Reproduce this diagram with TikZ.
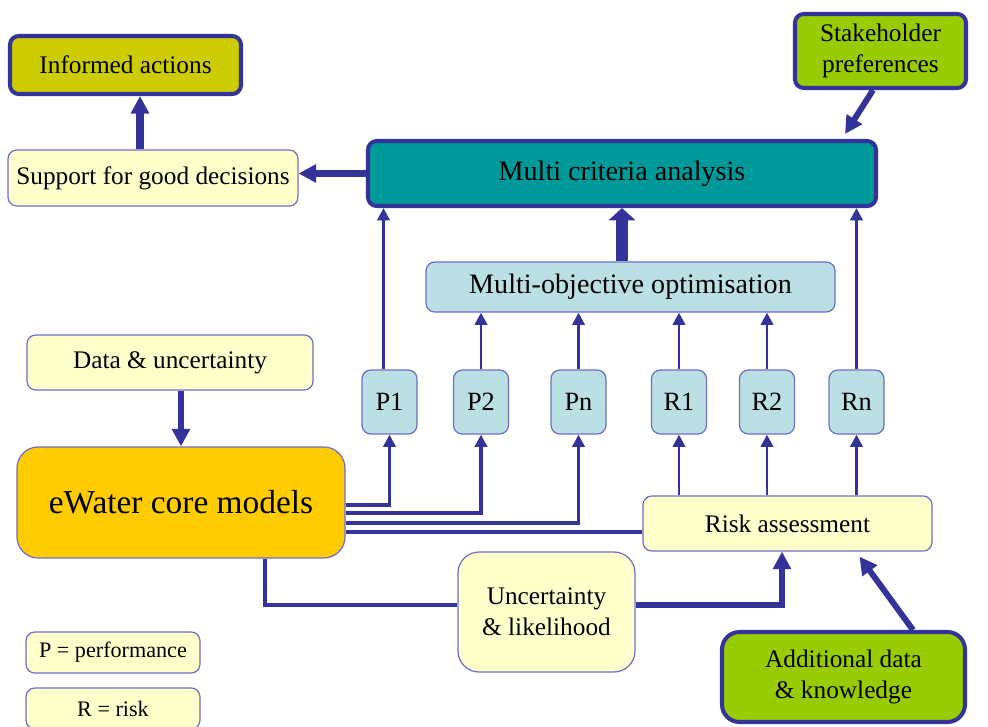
\documentclass[tikz,border=0pt]{standalone}
\usepackage{fontspec}
\setmainfont{Liberation Serif}
\usetikzlibrary{arrows.meta}
\definecolor{linkblue}{RGB}{51,51,153}
\definecolor{edgeblue}{RGB}{110,110,200}
\definecolor{paleyellow}{RGB}{255,255,204}
\definecolor{olive}{RGB}{204,204,0}
\definecolor{deepteal}{RGB}{0,153,153}
\definecolor{paleteal}{RGB}{187,224,227}
\definecolor{leafgreen}{RGB}{153,204,0}
\definecolor{amber}{RGB}{255,204,0}
\tikzset{
	box/.style={draw=edgeblue, line width=0.7pt, rounded corners=5pt, align=center, inner sep=0pt, font=\rmfamily\fontsize{14.4pt}{17.5pt}\selectfont},
	keybox/.style={box, draw=linkblue, line width=2.3pt},
	pbox/.style={box, fill=paleteal, minimum width=1.1cm, minimum height=1.28cm, font=\rmfamily\fontsize{15pt}{18pt}\selectfont},
	wire/.style={draw=linkblue, line width=2pt},
	link/.style={draw=linkblue, line width=1.7pt, -{Triangle[length=7pt,width=7pt]}},
	heavy/.style={draw=linkblue, line width=3.4pt, -{Triangle[length=10pt,width=10pt]}},
	fat/.style={draw=linkblue, line width=7pt, -{Triangle[length=7pt,width=15pt]}},
}
\begin{document}
\begin{tikzpicture}
	\useasboundingbox (0,0) rectangle (19.76,-14.54);
	\node[keybox, fill=olive, minimum width=4.62cm, minimum height=1.16cm] (act) at (2.51,-1.30) {Informed actions};
	\node[box, fill=paleyellow, minimum width=5.8cm, minimum height=1.12cm] (sup) at (3.06,-3.56) {Support for good decisions};
	\node[keybox, fill=deepteal, minimum width=10.16cm, minimum height=1.30cm, font=\rmfamily\fontsize{16pt}{19pt}\selectfont] (mca) at (12.44,-3.47) {Multi criteria analysis};
	\node[keybox, fill=leafgreen, minimum width=3.42cm, minimum height=1.48cm] (stake) at (17.61,-1.02) {Stakeholder\\preferences};
	\node[box, fill=paleteal, minimum width=8.18cm, minimum height=1.0cm, font=\rmfamily\fontsize{16pt}{19pt}\selectfont] (moo) at (12.61,-5.74) {Multi-objective optimisation};
	\node[pbox] (p1) at (7.79,-8.04) {P1};
	\node[pbox] (p2) at (9.62,-8.04) {P2};
	\node[pbox] (pn) at (11.57,-8.04) {Pn};
	\node[pbox] (r1) at (13.58,-8.04) {R1};
	\node[pbox] (r2) at (15.34,-8.04) {R2};
	\node[pbox] (rn) at (17.13,-8.04) {Rn};
	\node[box, fill=paleyellow, minimum width=5.72cm, minimum height=1.10cm] (data) at (3.40,-7.25) {Data \& uncertainty};
	\node[box, fill=amber, rounded corners=12pt, minimum width=6.56cm, minimum height=2.22cm, font=\rmfamily\fontsize{19pt}{22pt}\selectfont] (core) at (3.62,-10.05) {eWater core models};
	\node[box, fill=paleyellow, minimum width=5.78cm, minimum height=1.10cm] (risk) at (15.75,-10.47) {Risk assessment};
	\node[box, fill=paleyellow, rounded corners=12pt, minimum width=3.54cm, minimum height=2.40cm] (unc) at (10.93,-12.24) {Uncertainty\\\& likelihood};
	\node[keybox, fill=leafgreen, rounded corners=10pt, minimum width=4.86cm, minimum height=1.80cm] (add) at (16.87,-13.54) {Additional data\\\& knowledge};
	\node[box, fill=paleyellow, minimum width=3.48cm, minimum height=0.82cm, font=\rmfamily\fontsize{12.6pt}{15pt}\selectfont] (pkey) at (2.26,-13.05) {P = performance};
	\node[box, fill=paleyellow, minimum width=3.48cm, minimum height=0.82cm, font=\rmfamily\fontsize{12.6pt}{15pt}\selectfont] (rkey) at (2.26,-14.17) {R = risk};

	\draw[heavy, line width=4.2pt] ([xshift=-2.6mm]sup.north) -- ([xshift=-2.6mm]sup.north |- act.south);
	\draw[heavy, line width=4.2pt] (mca.west) -- (sup.east |- mca.west);
	\draw[heavy] ([xshift=-1.5mm]stake.south) -- ([xshift=-6.6mm,yshift=1mm]mca.north east);
	\draw[fat] (moo.north -| mca.south) -- (mca.south);
	\draw[link] ([xshift=-1.2mm]p1.north) -- ([xshift=-1.2mm]p1.north |- mca.south);
	\draw[link] (rn.north) -- (rn.north |- mca.south);
	\foreach \k in {p2,pn,r1,r2}
		\draw[link] (\k.north) -- (\k.north |- moo.south);
	\draw[heavy, line width=3pt] (data.south -| core.north) -- (core.north);
	\draw[link, line width=2pt] ([yshift=-0.5mm]core.east) -| (p1.south);
	\draw[link, line width=2pt] ([yshift=-2.1mm]core.east) -| (p2.south);
	\draw[link, line width=2pt] ([yshift=-4.1mm]core.east) -| (pn.south);
	\draw[wire] ([yshift=-5.9mm]core.east) -- ([yshift=-5.9mm]core.east -| risk.west);
	\draw[wire, line width=2.8pt] ([xshift=16.8mm]core.south) |- ([yshift=1.4mm]unc.west);
	\draw[heavy, line width=3pt] ([yshift=1.4mm]unc.east) -| ([xshift=-1.1mm]risk.south);
	\foreach \k in {r1,r2,rn}
		\draw[link] (\k.south |- risk.north) -- (\k.south);
	\draw[heavy] ([xshift=13.9mm]add.north) -- ([xshift=14.4mm,yshift=-1mm]risk.south);
\end{tikzpicture}
\end{document}
